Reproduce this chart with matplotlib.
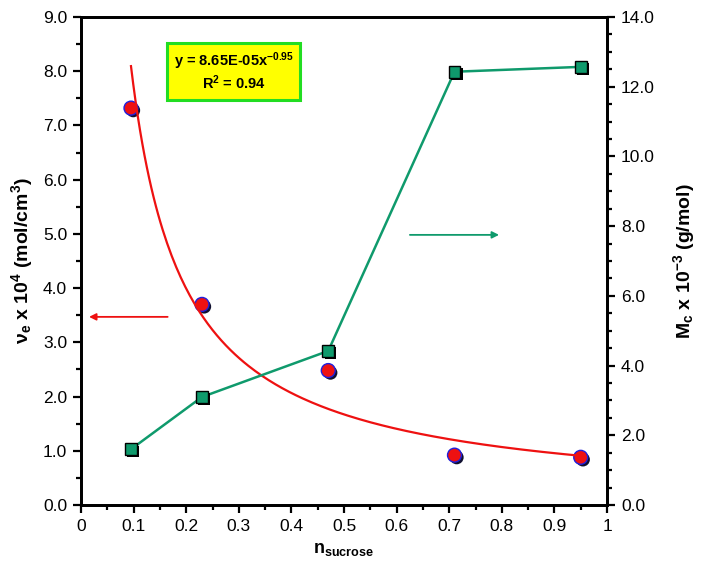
import numpy as np
import matplotlib
matplotlib.use('Agg')
from matplotlib import pyplot as plt
from matplotlib import patheffects as pe
from matplotlib.patches import Rectangle
from matplotlib.ticker import MultipleLocator, FormatStrFormatter

# data
n_sucrose = [0.095, 0.23, 0.47, 0.71, 0.95]
nu_e = [7.32, 3.70, 2.48, 0.92, 0.88]        # x 10^4 mol/cm3
mc = [1.60, 3.10, 4.42, 12.43, 12.57]         # x 10^-3 g/mol
fit_a = 0.865                                 # 8.65E-05 in units of 10^-4
fit_b = -0.95
fit_text = 'y = 8.65E-05x$^{-0.95}$'
r2_text = 'R$^2$ = 0.94'

plt.rcParams['font.family'] = ['Liberation Sans', 'DejaVu Sans']
plt.rcParams['mathtext.fontset'] = 'custom'
plt.rcParams['mathtext.rm'] = 'Liberation Sans'
plt.rcParams['mathtext.bf'] = 'Liberation Sans:bold'
plt.rcParams['mathtext.default'] = 'bf'

red = '#ee1111'
green = '#0f9a6c'

fig = plt.figure(figsize=(7.02, 5.75), dpi=100)
ax = fig.add_axes([0.1154, 0.1217, 0.7493, 0.8487])
ax2 = ax.twinx()

# fitted power curve (from the equation shown on the chart)
xf = np.linspace(min(n_sucrose), max(n_sucrose), 200)
ax.plot(xf, fit_a * xf ** fit_b, color=red, lw=1.6, zorder=3)

shadow = [pe.SimplePatchShadow(offset=(1.6, -1.6), shadow_rgbFace='black', alpha=1.0), pe.Normal()]
ax.plot(n_sucrose, nu_e, 'o', ms=10, mfc=red, mec='#2020dd', mew=1.0,
        path_effects=[pe.SimplePatchShadow(offset=(1.6, -1.6), shadow_rgbFace='#101030', alpha=1.0), pe.Normal()],
        zorder=2)

ax2.plot(n_sucrose, mc, '-', color=green, lw=1.8, zorder=2)
ax2.plot(n_sucrose, mc, 's', ms=8.5, mfc=green, mec='black', mew=1.0,
         path_effects=shadow, zorder=3)

# arrows
ax.annotate('', xy=(0.01, 3.47), xytext=(0.17, 3.47),
            arrowprops=dict(arrowstyle='-|>', color=red, lw=1.3, mutation_scale=10))
ax2.annotate('', xy=(0.80, 7.75), xytext=(0.62, 7.75),
             arrowprops=dict(arrowstyle='-|>', color=green, lw=1.3, mutation_scale=10))

# equation box
ax.add_patch(Rectangle((0.167, 7.43), 0.253, 1.05, facecolor='#888888', edgecolor='none', zorder=4))
ax.add_patch(Rectangle((0.163, 7.47), 0.253, 1.05, facecolor='#ffff00', edgecolor='#22dd22', lw=2.2, zorder=5))
ax.text(0.29, 8.18, fit_text, ha='center', va='center', fontsize=10.5, fontweight='bold', zorder=6)
ax.text(0.29, 7.78, r2_text, ha='center', va='center', fontsize=10.5, fontweight='bold', zorder=6)

ax.set_xlim(0, 1)
ax.set_ylim(0, 9)
ax2.set_ylim(0, 14)

ax.xaxis.set_major_locator(MultipleLocator(0.1))
ax.xaxis.set_minor_locator(MultipleLocator(0.05))
ax.xaxis.set_major_formatter(plt.FuncFormatter(lambda v, p: '%g' % round(v, 2)))
ax.yaxis.set_major_locator(MultipleLocator(1.0))
ax.yaxis.set_minor_locator(MultipleLocator(0.5))
ax.yaxis.set_major_formatter(FormatStrFormatter('%.1f'))
ax2.yaxis.set_major_locator(MultipleLocator(2.0))
ax2.yaxis.set_minor_locator(MultipleLocator(0.5))
ax2.yaxis.set_major_formatter(FormatStrFormatter('%.1f'))

for a in (ax, ax2):
    for s in a.spines.values():
        s.set_linewidth(2.0)
    a.tick_params(which='major', direction='out', length=6, width=1.6, labelsize=12.5, pad=4)
    a.tick_params(which='minor', direction='out', length=3.5, width=1.6)
ax.tick_params(axis='both', which='both', top=False, right=False)
ax2.tick_params(axis='y', which='both', left=False, right=True)

ax.set_xlabel('n$_{sucrose}$', fontsize=13, fontweight='bold', labelpad=5)
ax.set_ylabel('ν$_{e}$ x 10$^{4}$ (mol/cm$^{3}$)', fontsize=14, fontweight='bold', labelpad=6)
ax2.set_ylabel('M$_{c}$ x 10$^{-3}$ (g/mol)', fontsize=14, fontweight='bold', labelpad=12)

fig.savefig('out.png', dpi=100)
